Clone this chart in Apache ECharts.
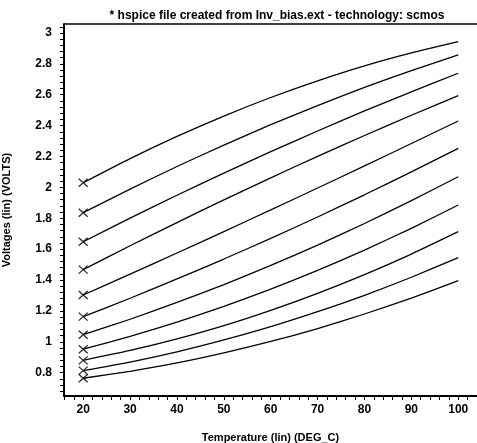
<!DOCTYPE html>
<html>
<head>
<meta charset="utf-8">
<script src="https://cdn.jsdelivr.net/npm/echarts@6/dist/echarts.min.js"></script>
<style>
  html, body { margin: 0; padding: 0; background: #fff; }
  #chart { width: 477px; height: 443px; }
</style>
</head>
<body>
<div id="chart"></div>
<script>
// temperature sweep (DEG_C)
const temps = [20, 30, 40, 50, 60, 70, 80, 90, 100];

// one voltage curve per bias step, top to bottom
const v1 = [2.03, 2.186, 2.33, 2.462, 2.582, 2.69, 2.787, 2.871, 2.944];
const v2 = [1.836, 1.989, 2.135, 2.274, 2.406, 2.53, 2.647, 2.756, 2.858];
const v3 = [1.648, 1.801, 1.949, 2.092, 2.231, 2.365, 2.495, 2.619, 2.739];
const v4 = [1.467, 1.622, 1.772, 1.919, 2.062, 2.201, 2.336, 2.467, 2.594];
const v5 = [1.303, 1.438, 1.575, 1.714, 1.854, 1.996, 2.139, 2.284, 2.43];
const v6 = [1.163, 1.282, 1.407, 1.536, 1.67, 1.808, 1.952, 2.1, 2.253];
const v7 = [1.046, 1.146, 1.255, 1.37, 1.495, 1.626, 1.766, 1.914, 2.069];
const v8 = [0.952, 1.035, 1.127, 1.229, 1.341, 1.463, 1.594, 1.735, 1.886];
const v9 = [0.88, 0.944, 1.019, 1.105, 1.204, 1.314, 1.435, 1.568, 1.713];
const v10 = [0.813, 0.869, 0.935, 1.012, 1.098, 1.195, 1.301, 1.418, 1.545];
const v11 = [0.764, 0.809, 0.863, 0.928, 1.002, 1.086, 1.18, 1.283, 1.396];

const curves = [v1, v2, v3, v4, v5, v6, v7, v8, v9, v10, v11];

// tick labels
const xTicks = [20, 30, 40, 50, 60, 70, 80, 90, 100];
const yTicks = [0.8, 1, 1.2, 1.4, 1.6, 1.8, 2, 2.2, 2.4, 2.6, 2.8, 3];

const FONT = "Liberation Sans";

const X_MIN = 15.9, X_MAX = 104;
const Y_MIN = 0.649, Y_MAX = 3.058;

// tick marks every 1/5 of a label step, across the whole axis
function tickMarks(majors, step, lo, hi) {
  const out = [];
  const start = majors[0] - Math.floor((majors[0] - lo) / step) * step;
  for (let v = start; v <= hi + 1e-9; v += step) out.push(+v.toFixed(4));
  return out;
}

const xMarks = tickMarks(xTicks, 2, X_MIN, X_MAX);
const yMarks = tickMarks(yTicks, 0.04, Y_MIN, Y_MAX);

const chart = echarts.init(document.getElementById("chart"));

const lineSeries = curves.map(function (vals) {
  return {
    type: "line",
    data: temps.map(function (t, i) { return [t, vals[i]]; }),
    showSymbol: false,
    symbol: "none",
    silent: true,
    smooth: 0.2,
    lineStyle: { color: "#000", width: 1.3 },
  };
});

const startMarks = {
  type: "scatter",
  data: curves.map(function (vals) { return [temps[0], vals[0]]; }),
  symbol: "path://M0,0L10,10M10,0L0,10",
  symbolSize: [9, 8],
  itemStyle: { color: "none", borderColor: "#000", borderWidth: 1.3 },
  silent: true,
};

const boldText = { fontFamily: FONT, fontWeight: "bold", color: "#000" };

chart.setOption({
  animation: false,
  title: {
    text: "* hspice file created from Inv_bias.ext - technology: scmos",
    left: 272,
    top: 5,
    textAlign: "center",
    textStyle: Object.assign({ fontSize: 12 }, boldText),
  },
  grid: { left: 64, right: 0, top: 24, bottom: 47, outerBoundsMode: "none" },
  xAxis: {
    type: "value",
    min: X_MIN,
    max: X_MAX,
    name: "Temperature (lin) (DEG_C)",
    nameLocation: "middle",
    nameGap: 36,
    nameTextStyle: Object.assign({ fontSize: 11 }, boldText),
    axisLine: { show: true, onZero: false, lineStyle: { color: "#000", width: 2 } },
    axisTick: { show: true, customValues: xMarks, length: 4, lineStyle: { color: "#000", width: 1 } },
    axisLabel: Object.assign({ show: true, customValues: xTicks, margin: 8, fontSize: 12 }, boldText),
    splitLine: { show: false },
  },
  yAxis: {
    type: "value",
    min: Y_MIN,
    max: Y_MAX,
    name: "Voltages (lin) (VOLTS)",
    nameLocation: "middle",
    nameGap: 52,
    nameTextStyle: Object.assign({ fontSize: 11 }, boldText),
    axisLine: { show: true, onZero: false, lineStyle: { color: "#000", width: 2 } },
    axisTick: { show: true, customValues: yMarks, length: 4, lineStyle: { color: "#000", width: 1 } },
    axisLabel: Object.assign({ show: true, customValues: yTicks, margin: 12, fontSize: 12 }, boldText),
    splitLine: { show: false },
  },
  series: lineSeries.concat([startMarks]),
});

// plot frame (left, bottom, top) placed from the axis extents
const lowLeft = chart.convertToPixel({ gridIndex: 0 }, [X_MIN, Y_MIN]);
const upRight = chart.convertToPixel({ gridIndex: 0 }, [X_MAX, Y_MAX]);
const frameStyle = { stroke: "#000", lineWidth: 2 };
chart.setOption({
  graphic: [
    { type: "line", z: 100, silent: true, shape: { x1: lowLeft[0], y1: upRight[1], x2: lowLeft[0], y2: lowLeft[1] }, style: frameStyle },
    { type: "line", z: 100, silent: true, shape: { x1: lowLeft[0], y1: lowLeft[1], x2: upRight[0], y2: lowLeft[1] }, style: frameStyle },
    { type: "line", z: 100, silent: true, shape: { x1: lowLeft[0], y1: upRight[1], x2: upRight[0], y2: upRight[1] }, style: { stroke: "#000", lineWidth: 1.5 } },
  ],
});
</script>
</body>
</html>
